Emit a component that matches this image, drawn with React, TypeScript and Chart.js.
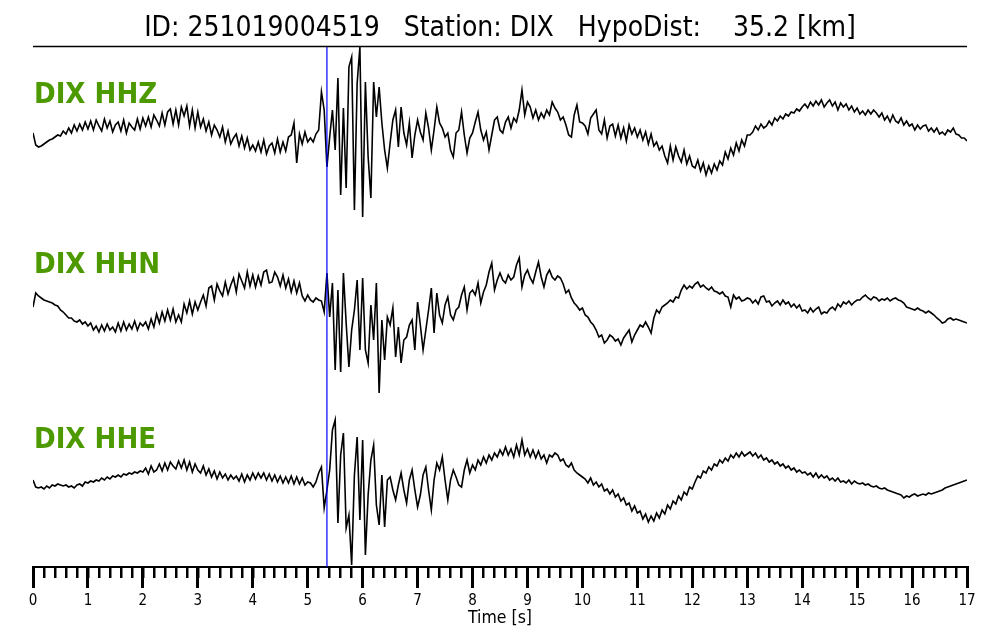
import React, { useEffect, useRef } from 'react';
import { Chart, registerables } from 'chart.js';

Chart.register(...registerables);

// ---- data ----
const titleText = 'ID: 251019004519   Station: DIX   HypoDist:    35.2 [km]';
const stationName = 'DIX';
const channelNames = ['HHZ', 'HHN', 'HHE'];
const sampleInterval = 0.05; // seconds between samples
const pickTime = 5.35; // P pick (blue line), seconds
const timeMin = 0;
const timeMax = 17;
const axisTitle = 'Time [s]';

// amplitudes (relative units, positive up), one sample every 0.05 s from 0 to 17 s
const hhz = [
  7, -5, -7, -6, -4, -2, 0, 1, 3, 5, 4, 9, 6, 12, 7, 15, 9, 16, 10, 18, 11,
  19, 10, 20, 14, 9, 21, 12, 19, 8, 15, 18, 9, 20, 7, 17, 13, 10, 21, 11, 22,
  14, 23, 13, 25, 20, 14, 27, 15, 28, 31, 16, 30, 15, 33, 24, 34, 14, 30, 12, 28,
  13, 21, 9, 18, 5, 15, 10, 3, 13, -2, 9, -4, 2, 6, -6, 4, -8, 2, -10, -5,
  -11, -2, -12, 0, -14, -6, -3, -13, 1, -12, -2, -11, 3, 5, 17, -23, 6, -4, 8, -2,
  2, -2, 6, 10, 48, 30, -27, 3, 30, -10, 62, -55, 32, -48, 73, 83, -70, 57, 93, -77,
  58, -17, -58, 58, 23, 53, 17, -10, -28, -3, 20, 30, -7, 33, 7, -5, 17, -18, 5, 20,
  8, 0, 27, 12, -10, 10, 33, 17, 12, 3, 7, -10, -17, 7, 10, 28, 5, -13, 2, 7,
  18, 28, 10, 0, 8, -10, 5, 20, 23, 10, 7, 18, 23, 12, 22, 18, 30, 50, 25, 38,
  33, 22, 30, 20, 27, 22, 30, 25, 38, 32, 28, 20, 23, 15, 5, 3, 25, 35, 18, 17,
  14, 6, 22, 26, 30, 10, 6, 20, 2, 14, 16, 4, 15, 2, 12, -1, 15, 6, 12, 3,
  10, 0, 8, -4, 6, -6, -2, -10, -6, -16, -23, -6, -20, -7, -16, -22, -10, -24, -16, -26,
  -28, -20, -31, -23, -35, -26, -33, -24, -30, -21, -25, -12, -19, -8, -15, -3, -11, 0, -6, 5,
  5, 8, 14, 10, 16, 12, 14, 19, 15, 22, 19, 24, 21, 26, 24, 28, 27, 31, 29, 33,
  36, 32, 38, 34, 39, 35, 40, 33, 37, 40, 34, 38, 30, 37, 33, 36, 30, 34, 28, 32,
  26, 29, 25, 30, 26, 30, 27, 23, 27, 20, 24, 18, 25, 19, 17, 22, 15, 19, 14, 16,
  10, 15, 11, 14, 15, 9, 12, 8, 12, 6, 8, 5, 10, 8, 12, 6, 5, 2, 2, -1,
];

const hhn = [
  3, 17, 14, 12, 10, 9, 8, 7, 5, 4, 0, -2, -5, -8, -8, -11, -12, -10, -14, -12, -16,
  -13, -20, -16, -22, -15, -21, -14, -20, -17, -22, -13, -21, -12, -20, -14, -19, -11, -20, -13, -16,
  -12, -19, -9, -17, -4, -13, -2, -11, 0, -10, 1, -12, -5, -12, 6, -3, 9, -4, 8, 0,
  8, 15, 4, 22, 24, 10, 26, 19, 14, 28, 16, 25, 32, 18, 36, 29, 22, 38, 24, 35,
  23, 34, 25, 38, 40, 27, 28, 38, 33, 24, 35, 22, 31, 18, 29, 17, 27, 14, 9, 15,
  10, 8, 12, 10, 9, -2, 37, -7, 27, -60, 20, -62, 37, -13, -57, -20, 0, 30, -40, 32,
  -40, -53, 5, -30, 27, -83, -10, -50, -7, -15, 2, -47, -17, -53, -30, -27, -15, -10, -40, 8,
  -15, -40, -20, 0, 22, -23, 17, -5, -13, 5, 13, -5, -10, 0, 3, 15, 23, 0, 17, 20,
  15, 27, 7, 18, 25, 38, 47, 20, 30, 37, 30, 27, 35, 30, 33, 45, 52, 23, 35, 40,
  32, 27, 38, 48, 33, 23, 35, 40, 33, 30, 34, 32, 26, 17, 20, 12, 7, 4, 0, 2,
  -5, -7, -12, -15, -20, -27, -25, -33, -30, -25, -27, -31, -29, -35, -28, -24, -20, -32, -25, -20,
  -15, -17, -12, -17, -23, -8, 0, -3, 3, 5, 7, 10, 8, 13, 12, 20, 25, 21, 24, 22,
  26, 28, 23, 25, 22, 20, 23, 19, 18, 16, 18, 14, 13, 3, 15, 11, 13, 9, 10, 12,
  11, 7, 10, 6, 13, 14, 8, 9, 4, 7, 9, 5, 10, 6, 8, 3, 6, 2, 5, -1,
  0, -3, 2, -2, 1, 3, -4, -2, -3, 1, 3, 0, 6, 3, 8, 6, 9, 5, 8, 10,
  10, 13, 15, 12, 10, 13, 12, 9, 11, 10, 12, 9, 11, 12, 10, 9, 7, 3, 2, 1,
  0, 2, 0, -1, -3, -1, -3, -5, -8, -10, -13, -12, -9, -8, -10, -9, -10, -11, -12, -13,
];

const hhe = [
  5, -2, -3, -2, -4, -1, -3, 0, -1, 1, 0, -1, 0, -2, -1, -3, 0, 1, -1, 3, 2,
  4, 3, 5, 4, 7, 5, 8, 6, 9, 8, 10, 8, 11, 10, 12, 11, 13, 12, 14, 13,
  17, 11, 19, 13, 15, 21, 14, 22, 15, 23, 19, 16, 24, 17, 25, 15, 23, 13, 21, 15,
  12, 19, 10, 16, 8, 14, 6, 13, 7, 11, 5, 10, 6, 9, 4, 11, 3, 10, 5, 12,
  6, 12, 7, 12, 5, 11, 4, 10, 3, 9, 2, 8, 2, 9, 1, 8, 1, 7, 0, 3,
  2, -2, 3, 12, 18, -23, -5, 15, 55, 65, -38, 30, 52, -43, -30, -80, 10, 48, -35, 45,
  -70, -10, 25, 40, -20, -40, 10, -42, 5, 8, -5, -15, 0, 12, -5, -18, 5, 15, -5, -22,
  -10, 10, 18, -5, -25, 5, 22, 15, 28, 5, -15, 5, 15, 8, 0, -2, 15, 25, 12, 20,
  15, 25, 20, 28, 22, 30, 25, 32, 28, 35, 30, 38, 30, 36, 28, 40, 30, 45, 30, 36,
  28, 35, 27, 34, 26, 30, 22, 30, 28, 32, 30, 24, 26, 20, 18, 22, 15, 12, 10, 8,
  6, 2, 7, 0, 3, -2, 1, -6, -4, -9, -5, -12, -9, -16, -13, -20, -18, -26, -21, -28,
  -26, -34, -29, -37, -31, -36, -28, -33, -25, -29, -20, -24, -16, -19, -11, -15, -7, -10, -2, -4,
  3, 9, 7, 14, 12, 18, 15, 21, 19, 25, 22, 27, 24, 30, 27, 32, 28, 33, 29, 31,
  33, 29, 32, 27, 30, 25, 27, 23, 25, 21, 23, 19, 21, 17, 19, 15, 17, 13, 15, 12,
  13, 10, 12, 8, 12, 7, 10, 7, 9, 5, 7, 4, 7, 3, 4, 2, 5, 1, 4, 2,
  1, 2, 0, 1, -1, -2, -1, -3, -4, -3, -5, -6, -7, -8, -9, -10, -13, -11, -12, -10,
  -9, -11, -10, -9, -10, -8, -9, -8, -7, -6, -5, -3, -2, -1, 0, 1, 2, 3, 4, 5,
];

const traces = [hhz, hhn, hhe];

// ---- layout / style (not data) ----
const traceBaselines = [427, 257, 82]; // vertical offset of each trace on the shared y scale
const yRange = 521;
const labelLift = 37;
const condensed = '"DejaVu Sans Condensed", "DejaVu Sans", sans-serif';
const labelGreen = '#4c9a00';

const decorPlugin = {
  id: 'seismoDecor',
  afterDraw(chart: any) {
    const { ctx, chartArea, scales } = chart;
    ctx.save();
    ctx.strokeStyle = '#000';
    ctx.lineWidth = 1.5;
    ctx.beginPath();
    ctx.moveTo(chartArea.left, chartArea.top + 0.5);
    ctx.lineTo(chartArea.right, chartArea.top + 0.5);
    ctx.stroke();
    ctx.font = `bold 29px ${condensed}`;
    ctx.fillStyle = labelGreen;
    ctx.textBaseline = 'alphabetic';
    ctx.textAlign = 'left';
    channelNames.forEach((ch, k) => {
      const y = scales.y.getPixelForValue(traceBaselines[k] + labelLift);
      ctx.fillText(`${stationName} ${ch}`, chartArea.left + 1, y);
    });
    ctx.restore();
  },
};

export default function App() {
  const canvasRef = useRef<HTMLCanvasElement | null>(null);

  useEffect(() => {
    const canvas = canvasRef.current;
    if (!canvas) return;

    const datasets: any[] = [
      {
        label: 'pick',
        data: [
          { x: pickTime, y: 0 },
          { x: pickTime, y: yRange },
        ],
        borderColor: '#0000ff',
        borderWidth: 1.2,
        pointRadius: 0,
        order: -1,
      },
    ];
    traces.forEach((vals, k) => {
      datasets.push({
        label: `${stationName} ${channelNames[k]}`,
        data: vals.map((v, i) => ({ x: i * sampleInterval, y: v + traceBaselines[k] })),
        borderColor: '#000',
        borderWidth: 1.6,
        pointRadius: 0,
        tension: 0,
        order: k,
      });
    });

    const chart = new Chart(canvas, {
      type: 'line',
      data: { datasets },
      options: {
        animation: false,
        responsive: false,
        devicePixelRatio: 1,
        layout: { padding: { left: 33, right: 33, top: 0, bottom: 0 } },
        plugins: {
          legend: { display: false },
          tooltip: { enabled: false },
          title: {
            display: true,
            text: titleText,
            color: '#000',
            font: { family: condensed, size: 28, weight: 'normal', lineHeight: 1.2 },
            padding: { top: 12, bottom: 0.4 },
          },
        },
        scales: {
          x: {
            type: 'linear',
            position: 'bottom',
            min: timeMin,
            max: timeMax,
            afterFit: (scale: any) => {
              scale.height = 73;
            },
            ticks: {
              stepSize: 1,
              autoSkip: false,
              maxRotation: 0,
              color: '#000',
              padding: 4,
              font: { family: condensed, size: 15 },
            },
            grid: {
              drawOnChartArea: false,
              drawTicks: true,
              tickLength: 21,
              tickWidth: 3,
              tickColor: '#000',
              lineWidth: 3,
            },
            border: { display: true, color: '#000', width: 2 },
            title: {
              display: true,
              text: axisTitle,
              color: '#000',
              font: { family: condensed, size: 17.5 },
              padding: { top: 0, bottom: 11 },
            },
          },
          xMinor: {
            type: 'linear',
            position: { y: 0 } as any,
            min: timeMin,
            max: timeMax,
            ticks: { stepSize: 0.2, display: false },
            grid: {
              drawOnChartArea: false,
              drawTicks: true,
              tickLength: 11,
              tickWidth: 2.5,
              tickColor: '#000',
              lineWidth: 2.5,
            },
            border: { display: false },
          },
          y: {
            type: 'linear',
            display: false,
            min: 0,
            max: yRange,
          },
        },
      },
      plugins: [decorPlugin],
    });

    return () => {
      chart.destroy();
    };
  }, []);

  return (
    <div style={{ position: 'absolute', left: 0, top: 0, width: 1000, height: 640, background: '#fff' }}>
      <canvas ref={canvasRef} width={1000} height={640} />
    </div>
  );
}
